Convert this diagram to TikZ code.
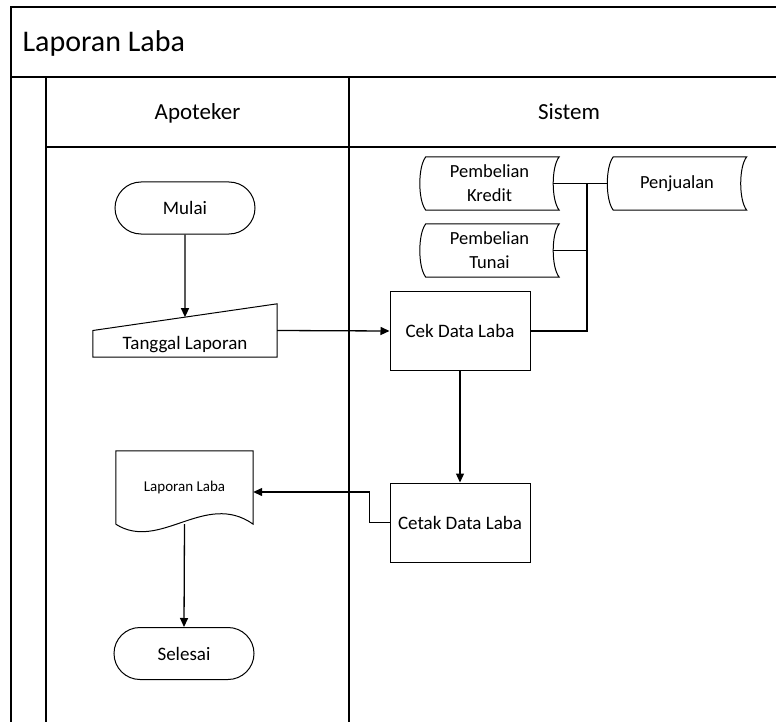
\documentclass[tikz,border=0pt]{standalone}
\usepackage{fontspec}
\setmainfont{Carlito}
\usetikzlibrary{arrows.meta,calc}

\tikzset{
  outline/.style={line width=1pt},
  terminal/.style={draw, line width=1pt, rounded corners=26pt, minimum width=140pt, minimum height=52pt, font=\fontsize{19}{23}\selectfont},
  process/.style={draw, line width=1pt, minimum width=140pt, minimum height=79pt, font=\fontsize{19}{23}\selectfont},
  store/.style={minimum width=139pt, minimum height=53pt, align=center, font=\fontsize{18.5}{24}\selectfont},
  lanehead/.style={anchor=base, font=\fontsize{23}{27}\selectfont},
  flow/.style={line width=1.3pt, -{Triangle[length=9pt,width=8pt]}},
  link/.style={line width=1.3pt},
}

\begin{document}
\begin{tikzpicture}[x=1pt, y=-1pt]
\useasboundingbox (0,0) rectangle (776,722);

% pool and lanes
\draw[line width=1.3pt] (11,722) -- (11,7) -- (776,7);
\draw[line width=1.3pt] (11,77) -- (776,77);
\draw[line width=1.3pt] (46,722) -- (46,77);
\draw[line width=1.3pt] (46,147) -- (776,147);
\draw[line width=1.3pt] (349,77) -- (349,722);
\node[anchor=base west, font=\fontsize{30}{34}\selectfont] (pool) at (19,52) {Laporan Laba};
\node[lanehead] (apoteker) at (197.5,120) {Apoteker};
\node[lanehead] (sistem) at (569,120) {Sistem};

% apoteker
\node[terminal] (mulai) at (185,208) {Mulai};
\node[minimum width=184pt, minimum height=53pt] (tgl) at (185,330.5) {};
\draw[outline] (tgl.south west) -- (tgl.south east) -- (tgl.north east) -- (tgl.west) -- cycle;
\node[anchor=base, font=\fontsize{19}{23}\selectfont] (tgltext) at ([yshift=8pt]tgl.south) {Tanggal Laporan};
\node[minimum width=137pt, minimum height=73pt, font=\fontsize{15}{18}\selectfont] (doc) at (184.5,487.5) {\raisebox{3pt}{Laporan Laba}};
\draw[outline] (doc.south west) -- (doc.north west) -- (doc.north east) -- (doc.south east)
  .. controls +(-48,-34) and +(44,28) .. (doc.south west);
\node[terminal] (selesai) at (184,653.5) {Selesai};

% sistem
\node[process] (cek) at (460,331) {Cek Data Laba};
\node[process] (cetak) at (460,522.5) {Cetak Data Laba};
\node[store] (kredit) at (489.5,183.5) {Pembelian\\Kredit};
\node[store] (tunai) at (489.5,250.5) {Pembelian\\Tunai};
\node[store] (jual) at (677,183.5) {Penjualan};
\foreach \n in {kredit,tunai,jual}
  \draw[outline] ([xshift=6pt]\n.north west) -- (\n.north east)
    .. controls +(-8,10) and +(-8,-10) .. (\n.south east)
    -- ([xshift=6pt]\n.south west)
    .. controls +(-8,-10) and +(-8,10) .. cycle;
\coordinate (bus) at (587,183.5);

% arus
\draw[flow] (mulai) -- ($(tgl.west)!0.5!(tgl.north east)$);
\draw[flow] (tgl.east) -- (cek.west);
\draw[link] ([xshift=-6pt]kredit.east) -- (jual.west);
\draw[link] ([xshift=-6pt]tunai.east) -- (bus |- tunai.east);
\draw[link] (cek.east) -| (bus);
\draw[flow] (cek.south) -- (cetak.north);
\draw[flow] (cetak.west) -- ++(-20,0) |- ([yshift=-4.5pt]doc.east);
\draw[flow] (doc.south) -- (selesai.north);
\end{tikzpicture}
\end{document}
